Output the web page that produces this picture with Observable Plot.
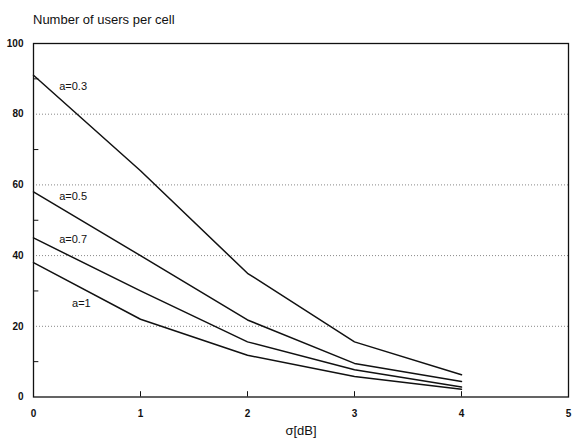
<!DOCTYPE html>
<html>
<head>
<meta charset="utf-8">
<script src="https://cdn.jsdelivr.net/npm/d3@7"></script>
<script src="https://cdn.jsdelivr.net/npm/@observablehq/plot@0.6"></script>
<style>
  body { margin: 0; background: #fff; font-family: "Liberation Sans", Arial, sans-serif; }
  #title { height: 33px; box-sizing: border-box; padding: 13px 0 0 33px; font-size: 13px; color: #111; line-height: 14px; }
</style>
</head>
<body>
<div id="title">Number of users per cell</div>
<div id="chart"></div>
<script>
const sigma = [0, 1, 2, 3, 4];
const series = ["a=0.3", "a=0.5", "a=0.7", "a=1"];
const users03 = [91, 64, 35, 15.6, 6.3];
const users05 = [58, 40, 21.8, 9.5, 4.4];
const users07 = [45, 30, 15.6, 7.7, 2.8];
const users1  = [38, 22, 11.8, 5.8, 2.2];
const labelX = [0.24, 0.24, 0.24, 0.36];
const labelY = [87.8, 56.8, 44.6, 26.5];
const xTicks = [0, 1, 2, 3, 4, 5];
const yTicks = [0, 20, 40, 60, 80, 100];
const gridY = [20, 40, 60, 80];
const minorY = [10, 30, 50, 70, 90];
const innerX = [1, 2, 3, 4];

const allValues = [users03, users05, users07, users1];
const rows = [];
series.forEach((s, i) => sigma.forEach((x, j) => rows.push({series: s, x, y: allValues[i][j]})));
const labels = series.map((s, i) => ({text: s, x: labelX[i], y: labelY[i]}));

const chart = Plot.plot({
  width: 575,
  height: 405,
  marginLeft: 33,
  marginRight: 7,
  marginTop: 10,
  marginBottom: 41.5,
  style: {fontFamily: "Liberation Sans, Arial, sans-serif", background: "#fff", color: "#111"},
  x: {domain: [0, 5]},
  y: {domain: [0, 100]},
  marks: [
    Plot.ruleY(gridY, {stroke: "#888", strokeDasharray: "1,2", strokeWidth: 1}),
    Plot.ruleX(innerX, {y1: 0, y2: 1.5, stroke: "#111"}),
    Plot.ruleY(minorY, {x1: 0, x2: 0.05, stroke: "#111"}),
    Plot.frame({stroke: "#111", strokeWidth: 1.3}),
    Plot.axisX(xTicks, {tickSize: 0, tickPadding: 13, fontSize: 10, fontWeight: "bold", label: null}),
    Plot.axisY(yTicks, {tickSize: 0, tickPadding: 10, fontSize: 10, fontWeight: "bold", label: null}),
    Plot.text(["σ[dB]"], {frameAnchor: "bottom", dy: 38, fontSize: 13}),
    Plot.line(rows, {x: "x", y: "y", z: "series", stroke: "#111", strokeWidth: 1.5}),
    Plot.text(labels, {x: "x", y: "y", text: "text", textAnchor: "start", fontSize: 11})
  ]
});
document.getElementById("chart").appendChild(chart);
</script>
</body>
</html>
